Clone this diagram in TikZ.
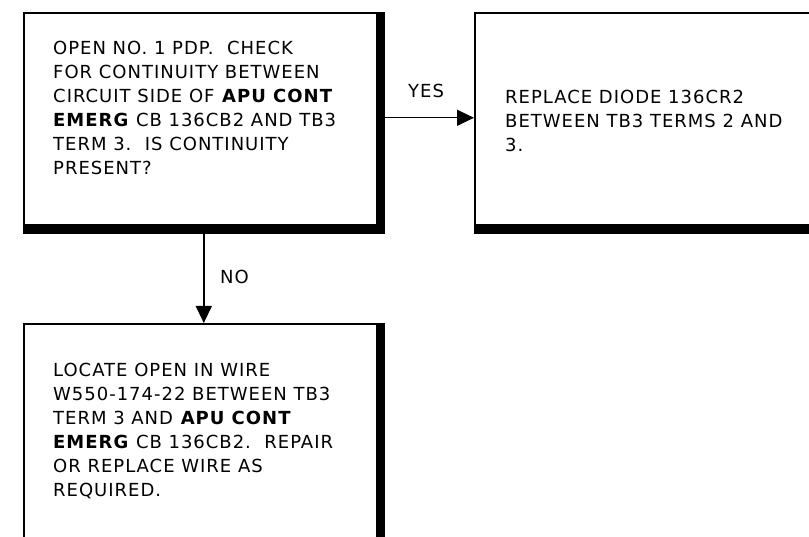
\documentclass[tikz,border=0pt]{standalone}
\usepackage{fontspec}
\setmainfont[LetterSpace=5.5]{DejaVu Sans}
\usetikzlibrary{arrows.meta,calc}
\newcommand{\lines}[1]{\begin{tabular}[t]{@{}l@{}}#1\end{tabular}}
\tikzset{
  box/.style={draw=black, line width=1.6pt, fill=white, anchor=north west, inner sep=0pt,
    path picture={
      \fill[black] ([yshift=8.5pt]path picture bounding box.south west) rectangle (path picture bounding box.south east);
      \fill[black] ([xshift=-7.5pt]path picture bounding box.north east) rectangle (path picture bounding box.south east);
    }},
  txt/.style={anchor=base west, inner sep=0pt, font=\fontsize{18}{24}\selectfont},
  lbl/.style={anchor=base west, inner sep=0pt, font=\fontsize{18}{24}\selectfont},
  arr/.style={line width=1.4pt, -{Triangle[length=17pt,width=16pt]}}
}
\begin{document}
\begin{tikzpicture}[x=1pt,y=-1pt]
\useasboundingbox (0,0) rectangle (809,537);
\node[box, minimum width=360pt, minimum height=220pt] (b1) at (23,12) {};
\node[box, minimum width=360pt, minimum height=220pt] (b2) at (474,12) {};
\node[box, minimum width=360pt, minimum height=222pt] (b3) at (23,323) {};
\node[txt] (t1) at (53,55) {\lines{OPEN NO. 1 PDP.\ \ CHECK\\FOR CONTINUITY BETWEEN\\CIRCUIT SIDE OF \textbf{APU CONT}\\\textbf{EMERG} CB 136CB2 AND TB3\\TERM 3.\ \ IS CONTINUITY\\PRESENT?}};
\node[txt] (t2) at (505,104) {\lines{REPLACE DIODE 136CR2\\BETWEEN TB3 TERMS 2 AND\\3.}};
\node[txt] (t3) at (53,377) {\lines{LOCATE OPEN IN WIRE\\W550-174-22 BETWEEN TB3\\TERM 3 AND \textbf{APU CONT}\\\textbf{EMERG} CB 136CB2.\ \ REPAIR\\OR REPLACE WIRE AS\\REQUIRED.}};
\coordinate (y1) at ($(b1.east)+(0,-5)$);
\draw[arr] (y1) -- (y1 -| b2.west);
\draw[arr] (b1.south) -- (b3.north);
\node[lbl] (yes) at (408,98) {YES};
\node[lbl] (no) at (220,284) {NO};
\end{tikzpicture}
\end{document}
